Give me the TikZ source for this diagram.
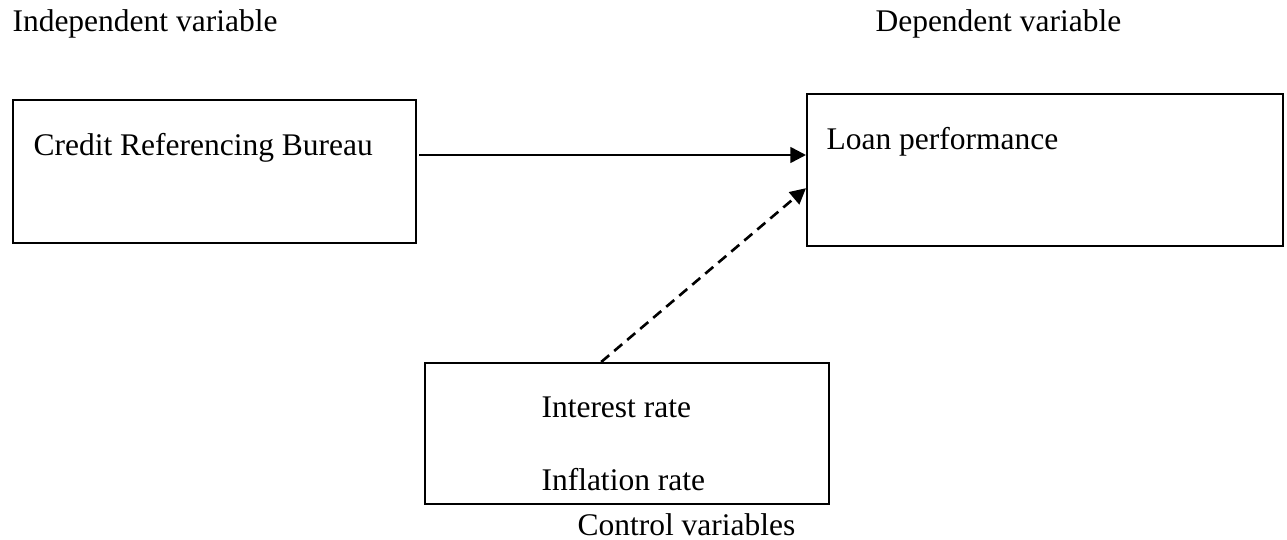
\documentclass[tikz,border=0pt]{standalone}
\usepackage{fontspec}
\setmainfont{Liberation Serif}
\usetikzlibrary{arrows.meta}

\begin{document}
\begin{tikzpicture}[x=0.381pt,y=-0.381pt,>={Triangle[length=6pt,width=6pt]},
  font=\fontsize{12}{14}\selectfont]
 \tikzstyle{box} = [draw,line width=0.9pt,inner sep=0pt,anchor=north west]
 \tikzstyle{txt} = [inner sep=0pt,anchor=base west]
 \tikzstyle{flow} = [->,line width=1pt]
 \newcommand{\px}{0.381pt}

 \useasboundingbox (0,0) rectangle (1287,539);

% Headings
 \node[txt] (indep) at (12,31) {Independent variable};
 \node[txt] (dep) at (875,31) {Dependent variable};

% Boxes
 \node[box,minimum width=403*\px,minimum height=143*\px] (bureau) at (12,99) {};
 \node[txt] (bureautext) at (33,155) {Credit Referencing Bureau};
 \node[box,minimum width=476*\px,minimum height=152*\px] (loan) at (806,93) {};
 \node[txt] (loantext) at (826,149) {Loan performance};
 \node[box,minimum width=404*\px,minimum height=141*\px] (control) at (424,362) {};
 \node[txt] (interest) at (541,417) {Interest rate};
 \node[txt] (inflation) at (541,490) {Inflation rate};
 \node[txt] (controltext) at (577,535) {Control variables};

% Arrows
 \draw[flow] ([xshift=2*\px]bureau.east |- bureautext.base) -- (loan.west |- bureautext.base);
 \draw[flow,dash pattern=on 4pt off 2.5pt] ([xshift=-26*\px]control.north)
   -- ([yshift=-18*\px]loan.west);
\end{tikzpicture}
\end{document}
